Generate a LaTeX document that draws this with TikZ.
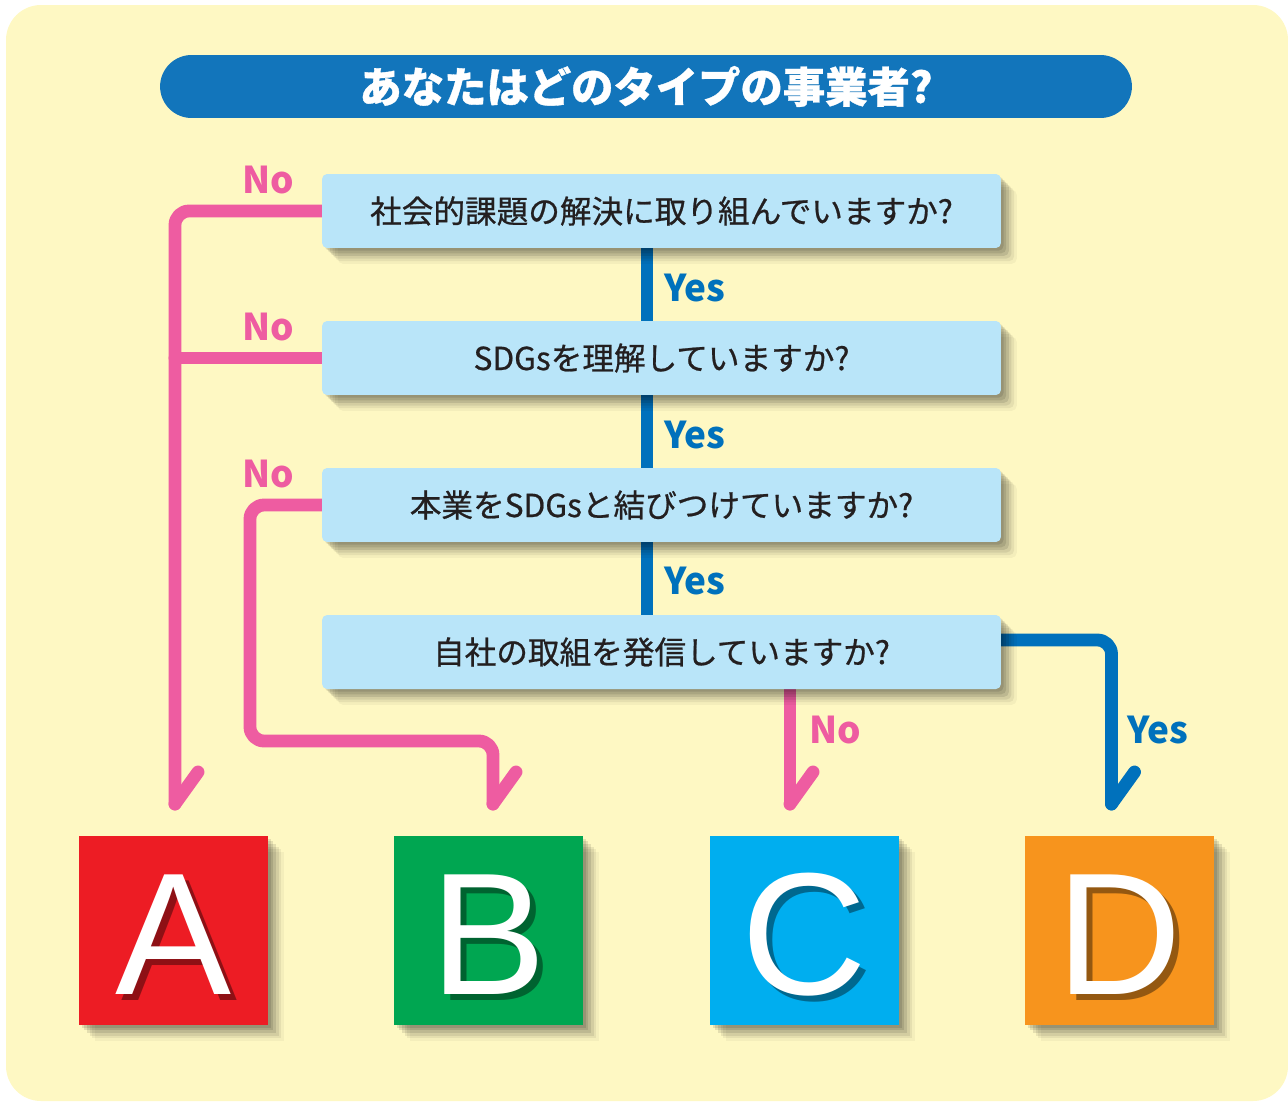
\documentclass[tikz,border=0pt]{standalone}
\usepackage{fontspec}
\setmainfont{Noto Sans CJK JP}
\newfontfamily\questionfont[FakeBold=0.7]{Noto Sans CJK JP}
\newfontfamily\titlefont[BoldFeatures={FakeBold=0.8}]{Noto Sans CJK JP}
\newfontfamily\letterfont{Liberation Sans}

\definecolor{bgyellow}{HTML}{FEF8C3}
\definecolor{titleblue}{HTML}{1275BB}
\definecolor{boxblue}{HTML}{B9E5F9}
\definecolor{nopink}{HTML}{EE5CA1}
\definecolor{yesblue}{HTML}{0071BC}
\definecolor{textdark}{HTML}{231F20}
\definecolor{boxred}{HTML}{ED1C24}
\definecolor{boxgreen}{HTML}{00A651}
\definecolor{boxcyan}{HTML}{00AEEF}
\definecolor{boxorange}{HTML}{F7941D}

\pgfdeclarelayer{back}
\pgfdeclarelayer{lines}
\pgfsetlayers{back,lines,main}

\tikzset{
  softshadow/.style={
    preaction={fill=black, fill opacity=0.10, transform canvas={shift={(1.5pt,-1.5pt)}}},
    preaction={fill=black, fill opacity=0.10, transform canvas={shift={(3pt,-3pt)}}},
    preaction={fill=black, fill opacity=0.10, transform canvas={shift={(4.5pt,-4.5pt)}}},
    preaction={fill=black, fill opacity=0.08, transform canvas={shift={(6pt,-6pt)}}},
    preaction={fill=black, fill opacity=0.06, transform canvas={shift={(7.5pt,-7.5pt)}}},
    preaction={fill=black, fill opacity=0.04, transform canvas={shift={(9pt,-9pt)}}}},
  question/.style={softshadow, fill=boxblue, rounded corners=0.1cm, minimum width=13.58cm,
    minimum height=1.48cm, inner sep=0pt, text=textdark,
    font=\questionfont\fontsize{18}{20}\selectfont},
  answer/.style={softshadow, minimum size=3.78cm, inner sep=0pt},
  letter/.style={text=white, inner sep=0pt, font=\letterfont\fontsize{99}{100}\selectfont},
  noline/.style={draw=nopink, line width=7.3pt, line cap=round, line join=round, rounded corners=0.28cm},
  yesline/.style={draw=yesblue, line width=7.3pt, line cap=round, line join=round, rounded corners=0.28cm},
  nolabel/.style={text=nopink, inner sep=0pt, font=\bfseries\fontsize{21}{24}\selectfont},
  yeslabel/.style={text=yesblue, inner sep=0pt, font=\bfseries\fontsize{21}{24}\selectfont},
}

\begin{document}
\begin{tikzpicture}[x=0.02cm, y=-0.02cm]
\useasboundingbox (0,0) rectangle (1288,1102);

% Background
\begin{pgfonlayer}{back}
\fill[bgyellow, rounded corners=0.7cm] (6,5) rectangle (1288,1101);
\end{pgfonlayer}

% Title
\node[fill=titleblue, rounded corners=0.63cm, minimum width=19.44cm, minimum height=1.26cm,
  text=white, font=\titlefont\bfseries\fontsize{24.1}{26}\selectfont] (title) at (646,86.5) {あなたはどのタイプの事業者?};

% Questions
\node[question] (q1) at (661.5,211) {社会的課題の解決に取り組んでいますか?};
\node[question] (q2) at (661.5,358) {SDGsを理解していますか?};
\node[question] (q3) at (661.5,505) {本業をSDGsと結びつけていますか?};
\node[question] (q4) at (661.5,652) {自社の取組を発信していますか?};

% Answers A-D
\foreach \name/\col/\x in {A/boxred/173.5, B/boxgreen/488.5, C/boxcyan/804.5, D/boxorange/1119.5} {
  \node[answer, fill=\col] (box\name) at (\x,930.5) {};
  \node[letter, text=black, opacity=0.4] (shade\name) at ([xshift=3.5pt,yshift=-5.5pt]box\name.center) {\name};
  \node[letter] (let\name) at ([yshift=-2.2pt]box\name.center) {\name};
}

% Turning points and arrow tips
\coordinate (spine) at (647,0);
\coordinate (tipA) at (175,804);
\coordinate (bendB) at (250,741);
\coordinate (tipB) at (493,804);
\coordinate (tipC) at (790,804);
\coordinate (tipD) at (1111.5,804);

% Connectors
\begin{pgfonlayer}{lines}
\draw[yesline] (q1.south -| spine) -- (q2.north -| spine);
\draw[yesline] (q2.south -| spine) -- (q3.north -| spine);
\draw[yesline] (q3.south -| spine) -- (q4.north -| spine);
\draw[noline] (q1.west) -| (tipA);
\draw[noline] (q2.west) -- (q2.west -| tipA);
\draw[noline] (q3.west) -| (bendB) -| (tipB);
\draw[noline] (q4.south -| tipC) -- (tipC);
\draw[yesline] ([yshift=0.24cm]q4.east) -| (tipD);
\foreach \t/\s in {tipA/noline, tipB/noline, tipC/noline, tipD/yesline}
  \draw[\s] (\t) -- ++(23,-32);
\end{pgfonlayer}

% Labels
\node[nolabel] (no1) at (268,180) {No};
\node[nolabel] (no2) at (268,327) {No};
\node[nolabel] (no3) at (268,474) {No};
\node[nolabel] (no4) at (835.5,730) {No};
\node[yeslabel] (yes1) at (695,288) {Yes};
\node[yeslabel] (yes2) at (695,435) {Yes};
\node[yeslabel] (yes3) at (695,581) {Yes};
\node[yeslabel] (yes4) at (1157.5,730) {Yes};

\end{tikzpicture}
\end{document}
